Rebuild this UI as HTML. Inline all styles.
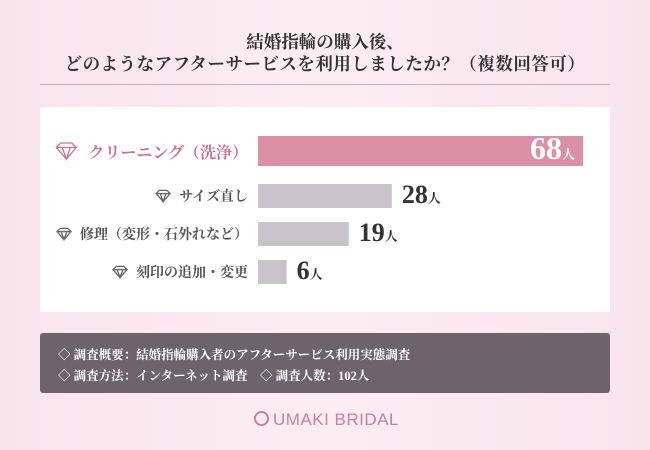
<!DOCTYPE html>
<html><head><meta charset="utf-8">
<style>
body{margin:0;width:650px;height:450px;overflow:hidden;background:linear-gradient(90deg,#f9e4ec,#fbeef3 50%,#f9e4ec);font-family:"Liberation Serif","Noto Serif CJK SC",serif;position:relative}
.t{position:absolute;left:0;width:650px;text-align:center;font-size:17.5px;font-weight:bold;color:#333}
#panel{position:absolute;left:40px;top:107px;width:570px;height:205px;background:#fff}
.lab{position:absolute;right:402px;font-weight:bold;color:#555;font-size:14px;white-space:nowrap}
.val{position:absolute;font-weight:bold;color:#333;font-size:26px;white-space:nowrap}
.val small{font-size:13px}
#box{position:absolute;left:40px;top:333px;width:570px;height:60px;background:#6d6369;border-radius:3px;color:#fff;font-size:12.5px;font-weight:bold}
</style></head><body>
<div class="t" style="top:29px">結婚指輪の購入後、</div>
<div class="t" style="top:51px;letter-spacing:0.5px">どのようなアフターサービスを利用しましたか？（複数回答可）</div>
<div style="position:absolute;left:40px;top:84px;width:570px;height:1px;background:#d9a9bb"></div>
<div id="panel"></div>
<svg id="chart" width="650" height="450" style="position:absolute;left:0;top:0"></svg>
<div id="box">
<div style="position:absolute;left:18px;top:12px">◇ 調査概要：結婚指輪購入者のアフターサービス利用実態調査</div>
<div style="position:absolute;left:18px;top:33px">◇ 調査方法：インターネット調査　◇ 調査人数：102人</div>
</div>
<div style="position:absolute;left:254px;top:410px;font-family:'Liberation Sans',sans-serif;font-size:17px;color:#c9819c;letter-spacing:0.5px">
<span style="display:inline-block;width:11px;height:11px;border:2px solid #c9819c;border-radius:50%;vertical-align:-1px;margin-right:4px"></span>UMAKI BRIDAL</div>
<script>
const categories=["クリーニング（洗浄）","サイズ直し","修理（変形・石外れなど）","刻印の追加・変更"];
const values=[68,28,19,6];
const unit="人";
const svg=document.getElementById('chart');
const NS="http://www.w3.org/2000/svg";
const x0=258, pxPer=325/68;
function xs(v){return v*pxPer;}
const tops=[136,184,222,260], hs=[30,24,24,24];
function diamond(x,y,s,c){
  const g=document.createElementNS(NS,'path');
  g.setAttribute('d',`M${x-s},${y-s*0.35}L${x-s*0.55},${y-s*0.8}H${x+s*0.55}L${x+s},${y-s*0.35}L${x},${y+s*0.8}Z M${x-s},${y-s*0.35}H${x+s} M${x-s*0.4},${y-s*0.35}L${x},${y+s*0.8}L${x+s*0.4},${y-s*0.35}`);
  g.setAttribute('fill','none');g.setAttribute('stroke',c);g.setAttribute('stroke-width','1.3');
  
  
  svg.appendChild(g);
}
categories.forEach((c,i)=>{
  const first=i===0;
  const r=document.createElementNS(NS,'rect');
  r.setAttribute('x',x0);r.setAttribute('y',tops[i]);r.setAttribute('width',xs(values[i]));r.setAttribute('height',hs[i]);
  r.setAttribute('fill',first?'#dc90a8':'#c9c3cb');
  
  
  svg.appendChild(r);
  const cy=tops[i]+hs[i]/2;
  const l=document.createElement('div');
  l.className='lab';l.textContent=c;
  l.style.top=(cy-(first?11:10))+'px';
  if(first){l.style.fontSize='16px';l.style.color='#c9708f';}
  
  
  document.body.appendChild(l);
  const tw=l.getBoundingClientRect().width;
  diamond(650-402-tw-(first?22:16),cy,first?10:7,first?'#c9708f':'#666');
  const v=document.createElement('div');
  v.className='val';v.innerHTML=values[i]+'<small>'+unit+'</small>';
  
  
  document.body.appendChild(v);
  if(first){v.style.color='#fff';v.style.fontSize='32px';v.style.left=(x0+xs(values[i])-v.getBoundingClientRect().width-8)+'px';v.style.top=(cy-21)+'px';}
  else{v.style.left=(x0+xs(values[i])+10)+'px';v.style.top=(cy-16)+'px';}
});
</script>
</body></html>
